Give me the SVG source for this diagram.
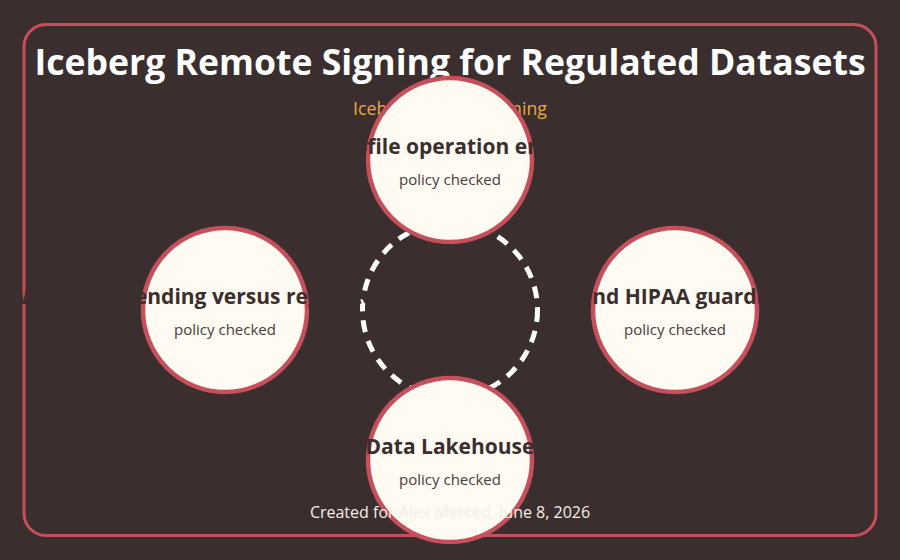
<svg xmlns="http://www.w3.org/2000/svg" width="900" height="560" viewBox="0 0 900 560">
  <style>
    .bg { fill: #3a2e2f; }
    .frame { fill: none; stroke: #c54f5a; stroke-width: 3; }
    .title { font-family: "Open Sans", "Liberation Sans", sans-serif; font-weight: 700; font-size: 35.6px; fill: #ffffff; text-anchor: middle; }
    .subtitle { font-family: "Open Sans", "Liberation Sans", sans-serif; font-size: 17.7px; fill: #e9a93a; text-anchor: middle; }
    .ring { fill: none; stroke: #ffffff; stroke-width: 5; stroke-dasharray: 12 9; }
    .node circle { fill: #fffaf2; stroke: #c54f5a; stroke-width: 4.5; }
    .label { font-family: "Open Sans", "Liberation Sans", sans-serif; font-weight: 700; font-size: 21px; fill: #3a2e2f; text-anchor: middle; }
    .sub { font-family: "Open Sans", "Liberation Sans", sans-serif; font-size: 15px; fill: #4a3d3d; text-anchor: middle; }
    .footer { font-family: "Open Sans", "Liberation Sans", sans-serif; font-size: 16px; fill: #f6eee6; text-anchor: middle; }
  </style>
  <rect class="bg" x="0" y="0" width="900" height="560"/>
  <rect class="frame" x="24" y="24.5" width="852" height="511" rx="22" ry="22"/>
  <text class="title" x="450" y="75">Iceberg Remote Signing for Regulated Datasets</text>
  <text class="subtitle" x="450" y="115">Iceberg Remote Signing</text>
  <g id="connectors">
    <circle class="ring" cx="450" cy="310" r="87.5"/>
  </g>
  <g id="node-top" class="node">
    <circle cx="450" cy="160" r="82"/>
    <text class="label" x="457" y="154">Strict per-file operation enforcement</text>
    <text class="sub" x="450" y="185">policy checked</text>
  </g>
  <g id="node-right" class="node">
    <circle cx="675" cy="310" r="82"/>
    <text class="label" x="547" y="304" text-anchor="start" style="text-anchor:start">PII and HIPAA guardrails</text>
    <text class="sub" x="675" y="335">policy checked</text>
  </g>
  <g id="node-bottom" class="node">
    <circle cx="450" cy="460" r="82"/>
    <text class="label" x="450" y="454">Data Lakehouse</text>
    <text class="sub" x="450" y="485">policy checked</text>
  </g>
  <g id="node-left" class="node">
    <circle cx="225" cy="310" r="82"/>
    <text class="label" x="225" y="304">Weighing spending versus regulatory risk</text>
    <text class="sub" x="225" y="335">policy checked</text>
  </g>
  <text class="footer" x="450" y="518">Created for Alex Merced, June 8, 2026</text>
</svg>
